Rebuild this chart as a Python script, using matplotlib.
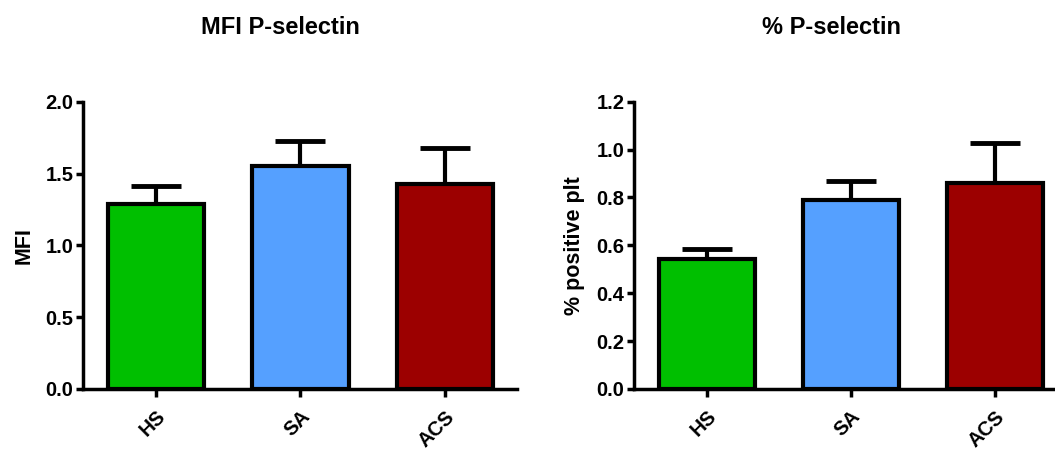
import matplotlib.pyplot as plt
import numpy as np

plt.rcParams['font.family'] = ['Liberation Sans', 'DejaVu Sans']
plt.rcParams['font.weight'] = 'bold'

groups = ["HS", "SA", "ACS"]
colors = ["#00bf00", "#55a0ff", "#9c0000"]

mfi_mean = [1.29, 1.555, 1.427]
mfi_err = [0.12, 0.17, 0.25]

pos_mean = [0.542, 0.789, 0.862]
pos_err = [0.043, 0.081, 0.167]

fig = plt.figure(figsize=(10.55, 4.5), dpi=100)
ax1 = fig.add_axes([0.0787, 0.1356, 0.4113, 0.6384])
ax2 = fig.add_axes([0.601, 0.1356, 0.4103, 0.6384])


def draw(ax, means, errs, ymax, step, ylabel, title, tx):
    x = np.arange(len(groups))
    ax.bar(x, means, width=0.667, color=colors, edgecolor="black", linewidth=3, zorder=2)
    ax.errorbar(x, means, yerr=[np.zeros(len(errs)), errs], fmt="none", ecolor="black",
                elinewidth=3, capsize=18, capthick=3.5, zorder=1)
    ax.set_xlim(-0.507, 2.5)
    ax.set_ylim(0, ymax)
    ticks = np.arange(0, ymax + step / 2, step)
    ax.set_yticks(ticks)
    ax.set_yticklabels(["%.1f" % v for v in ticks], fontsize=14.5, fontweight="bold")
    ax.set_xticks(x)
    ax.set_xticklabels(groups, rotation=45, ha="right", rotation_mode="anchor",
                       fontsize=14.5, fontweight="bold")
    for s in ["top", "right"]:
        ax.spines[s].set_visible(False)
    for s in ["left", "bottom"]:
        ax.spines[s].set_linewidth(2.5)
    ax.tick_params(axis="y", direction="out", length=5, width=2.5, pad=2)
    ax.tick_params(axis="x", direction="out", length=6, width=2.5, pad=7)
    ax.set_ylabel(ylabel, fontsize=15.5, fontweight="bold", labelpad=8)
    fig.text(tx, 0.925, title, ha="center", va="baseline", fontsize=17, fontweight="bold")


draw(ax1, mfi_mean, mfi_err, 2.0, 0.5, "MFI", "MFI P-selectin", 280 / 1055)
draw(ax2, pos_mean, pos_err, 1.2, 0.2, "% positive plt", "% P-selectin", 832 / 1055)

fig.savefig("out.png", dpi=100)
